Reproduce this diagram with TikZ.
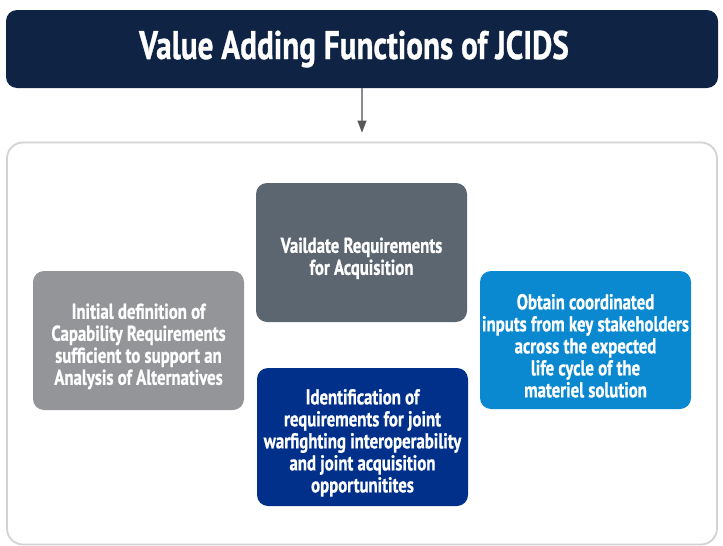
\documentclass[tikz,border=0pt]{standalone}
\usepackage{fontspec}
\setmainfont{PT Sans}[FakeStretch=0.78,BoldFeatures={FakeBold=0.8}]
\usetikzlibrary{arrows.meta}
\definecolor{titlenavy}{HTML}{0F2344}
\definecolor{slategray}{HTML}{5C6670}
\definecolor{midgray}{HTML}{939598}
\definecolor{skyblue}{HTML}{0B89D0}
\definecolor{royalnavy}{HTML}{00308A}
\definecolor{panelgray}{HTML}{D1D3D4}
\definecolor{arrowgray}{HTML}{8A8C8E}
\newcommand{\firstline}{\rule{0pt}{27pt}}

\begin{document}
\begin{tikzpicture}[x=1pt,y=-1pt,
        fbox/.style={rounded corners=11pt,minimum width=211pt,minimum height=139pt,
            inner sep=0pt,text=white,align=center,font=\bfseries\fontsize{21.5}{22}\selectfont}]
            \useasboundingbox (0,0) rectangle (723,546);

            \node[fill=titlenavy,rounded corners=11pt,minimum width=712pt,minimum height=78pt,
                text=white,font=\bfseries\fontsize{40}{42}\selectfont] (title) at (362,49) {Value Adding Functions of JCIDS\kern16pt};

            \node[draw=panelgray,line width=1.8pt,rounded corners=16pt,minimum width=710pt,minimum height=402pt] (panel) at (362,343.5) {};

            \draw[arrowgray,line width=1.2pt,-{Triangle[length=12pt,width=9pt,color=black!65]},shorten >=9pt] (title.south)--(panel.north);

            \node[fbox,fill=slategray] (validate) at (361.5,252.5) {\firstline Vaildate Requirements\\for Acquisition};
            \node[fbox,fill=midgray] (initial) at (138.5,340.5) {\firstline Initial definition of\\Capability Requirements\\sufficient to support an\\Analysis of Alternatives};
            \node[fbox,fill=skyblue,minimum height=138pt] (obtain) at (585.5,340) {\firstline Obtain coordinated\\inputs from key stakeholders\\across the expected\\life cycle of the\\materiel solution};
            \node[fbox,fill=royalnavy,minimum height=138pt] (ident) at (362.5,437) {\firstline Identification of\\requirements for joint\\warfighting interoperability\\and joint acquisition\\opportunitites};
        \end{tikzpicture}
\end{document}
